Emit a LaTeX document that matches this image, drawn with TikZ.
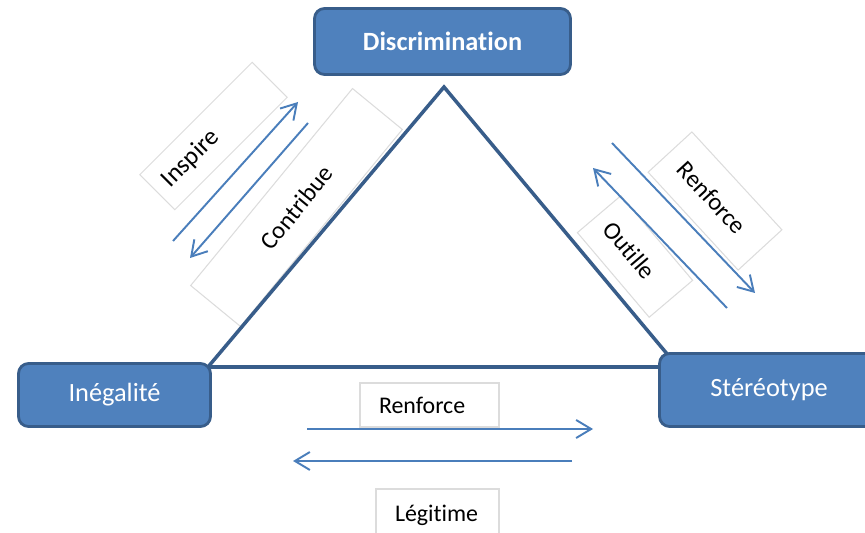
\documentclass[tikz,border=0pt]{standalone}
\usepackage{fontspec}
\setmainfont{Carlito}[Ligatures=NoCommon]
\usetikzlibrary{arrows.meta}

\definecolor{boxblue}{HTML}{4F81BD}
\definecolor{boxedge}{HTML}{385D8A}
\definecolor{linkblue}{HTML}{4A7EBB}
\definecolor{framegrey}{HTML}{DCDCDC}

\tikzset{
  concept/.style={draw=boxedge, line width=1.6pt, fill=boxblue, rounded corners=0.2cm,
    text=white, font=\fontsize{15}{17}\selectfont},
  tag/.style={draw=framegrey, line width=0.6pt, align=left, inner ysep=0pt,
    font=\fontsize{13.6}{15}\selectfont},
  link/.style={draw=linkblue, line width=1.1pt, -{Straight Barb[length=3mm,width=3.6mm]}},
  side/.style={draw=boxedge, line width=2pt},
}

\begin{document}
\begin{tikzpicture}[x=0.02cm, y=-0.02cm]
    \clip (0,0) rectangle (865,533);

    % Label frames
    \node[tag, rotate=45, minimum height=0.99cm, inner xsep=0.25cm, text width=2.68cm, font=\fontsize{14.4}{16}\selectfont] (inspire) at (213.5,136) {Inspire};
    \node[tag, rotate=50.6, align=center, minimum width=5.1cm, minimum height=1.29cm, font=\fontsize{14}{16}\selectfont] (contribue) at (296.5,207.5) {Contribue};
    \node[tag, rotate=-47.4, minimum height=1.19cm, inner xsep=0.35cm, text width=1.96cm, font=\fontsize{14}{16}\selectfont] (renforceR) at (715,201) {Renforce};
    \node[tag, rotate=-49.7, minimum height=1.14cm, inner xsep=0.28cm, text width=1.66cm, font=\fontsize{14}{16}\selectfont] (outille) at (635,256.5) {Outille};
    \node[tag, minimum height=0.88cm, inner xsep=0.38cm, text width=2.02cm] (renforceB) at (429.5,405) {Renforce};
    \node[tag, minimum height=1.04cm, inner xsep=0.38cm, text width=1.7cm] (legitime) at (437.5,515) {Légitime};

    % Arrow ends
    \coordinate (inspireA) at (173,241);
    \coordinate (inspireB) at (298,102);
    \coordinate (contribueA) at (308,123);
    \coordinate (contribueB) at (190,258);
    \coordinate (renforceA) at (612,143);
    \coordinate (renforceZ) at (755,293);
    \coordinate (outilleA) at (727,308);
    \coordinate (outilleB) at (593,168);
    \coordinate (basA) at (307,429);
    \coordinate (basB) at (593,429);
    \coordinate (legA) at (572,461);
    \coordinate (legB) at (293,461);

    % Arrows
    \draw[link] (inspireA) -- (inspireB);
    \draw[link] (contribueA) -- (contribueB);
    \draw[link] (renforceA) -- (renforceZ);
    \draw[link] (outilleA) -- (outilleB);
    \draw[link] (basA) -- (basB);
    \draw[link] (legA) -- (legB);

    % Triangle
    \coordinate (apex) at (444,87);
    \coordinate (leftfoot) at (208,367);
    \coordinate (rightfoot) at (678,367);
    \draw[side] (apex) -- (leftfoot) -- (rightfoot) -- cycle;

    % Corner boxes
    \node[concept, font=\fontsize{15}{17}\selectfont\bfseries, minimum width=5.12cm, minimum height=1.32cm] (discr) at (442.5,41.5) {Discrimination};
    \node[concept, minimum width=3.84cm, minimum height=1.26cm] (ineg) at (114.5,395) {Inégalité};
    \node[concept, minimum width=4.38cm, minimum height=1.46cm] (stereo) at (769,390) {Stéréotype};
\end{tikzpicture}
\end{document}
